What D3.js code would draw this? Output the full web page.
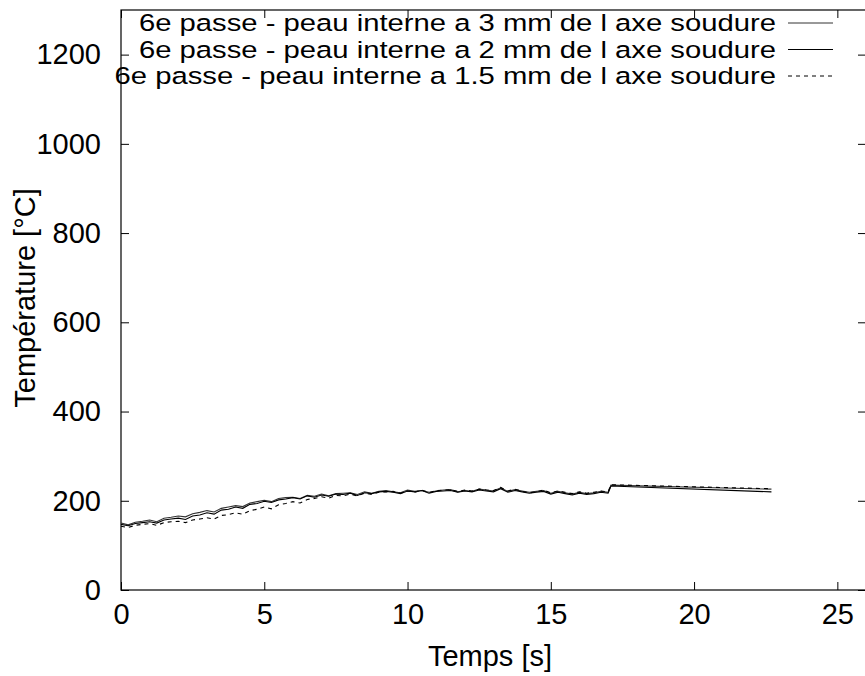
<!DOCTYPE html>
<html><head><meta charset="utf-8">
<script src="https://cdn.jsdelivr.net/npm/d3@7"></script>
<style>body{margin:0;background:#fff}svg{display:block}text{font-family:"Liberation Sans",Arial,sans-serif;fill:#000}</style>
</head><body><svg id="c" width="865" height="676"></svg>
<script>
const time = [0,0.25,0.5,0.75,1,1.25,1.5,1.75,2,2.25,2.5,2.75,3,3.25,3.5,3.75,4,4.25,4.5,4.75,5,5.25,5.5,5.75,6,6.25,6.5,6.75,7,7.25,7.5,7.75,8,8.25,8.5,8.75,9,9.25,9.5,9.75,10,10.25,10.5,10.75,11,11.25,11.5,11.75,12,12.25,12.5,12.75,13,13.25,13.5,13.75,14,14.25,14.5,14.75,15,15.25,15.5,15.75,16,16.25,16.5,16.75,17,17.1,22.7];
const temp3mm = [150,146,152,154,157,153,161,163,166,164,171,174,178,175,183,186,189,187,195,198,201,198,205,207,208,205,212,210,215,211,216,217,218,214,220,217,221,223,220,218,224,221,223,219,222,224,225,220,223,221,226,224,222,229,221,225,222,219,221,223,217,221,218,215,219,216,218,221,219,235,226];
const temp2mm = [147,144,149,151,153,150,157,159,161,158,166,168,173,170,179,181,186,183,192,194,199,196,202,204,207,204,211,208,213,210,215,214,217,212,218,216,220,221,219,216,222,220,223,217,221,222,223,219,222,220,224,222,220,227,219,223,220,217,219,221,215,219,216,213,217,214,216,219,217,233,220];
const temp15mm = [143,140,145,147,149,145,151,153,154,151,157,159,162,159,167,169,173,170,178,181,186,182,191,194,198,195,203,205,209,206,212,211,215,211,217,214,219,220,221,217,222,219,224,218,223,224,225,221,224,222,226,224,223,230,222,226,221,218,220,224,218,222,219,216,220,217,219,222,220,236,227];
const seriesNames = ["6e passe - peau interne a 3 mm de l axe soudure","6e passe - peau interne a 2 mm de l axe soudure","6e passe - peau interne a 1.5 mm de l axe soudure"];
const xTicks = [0,5,10,15,20,25];
const yTicks = [0,200,400,600,800,1000,1200];
const xLabel = "Temps [s]";
const yLabel = "Température [°C]";

const svg = d3.select("#c");
const L = 121, R = 866, T = 10, B = 590;
const x = d3.scaleLinear().domain([0,26]).range([L,R]);
const y = d3.scaleLinear().domain([0,1300]).range([B,T]);
const fs = 29;

svg.append("rect").attr("x",L).attr("y",T).attr("width",R-L).attr("height",B-T)
  .attr("fill","none").attr("stroke","#000").attr("stroke-width",1.2);

const tl = 8;
svg.append("g").attr("transform",`translate(0,${B})`)
  .call(d3.axisBottom(x).tickValues(xTicks).tickSize(-tl).tickPadding(13).tickFormat(d3.format("d")))
  .call(g=>{g.select(".domain").remove();g.selectAll("text").attr("font-size",fs).attr("font-family","Liberation Sans, Arial").attr("fill","#000");});
svg.append("g").attr("transform",`translate(0,${T})`)
  .call(d3.axisTop(x).tickValues(xTicks).tickSize(-tl).tickFormat(""))
  .call(g=>g.select(".domain").remove());
svg.append("g").attr("transform",`translate(${L},0)`)
  .call(d3.axisLeft(y).tickValues(yTicks).tickSize(-tl).tickPadding(20).tickFormat(d3.format("d")))
  .call(g=>{g.select(".domain").remove();g.selectAll("text").attr("font-size",fs).attr("font-family","Liberation Sans, Arial").attr("fill","#000");});
svg.append("g").attr("transform",`translate(${R},0)`)
  .call(d3.axisRight(y).tickValues(yTicks).tickSize(-tl).tickFormat(""))
  .call(g=>g.select(".domain").remove());

svg.append("text").attr("x",490).attr("y",666).attr("text-anchor","middle").attr("font-size",fs).text(xLabel);
svg.append("text").attr("transform","translate(35,298) rotate(-90)").attr("text-anchor","middle").attr("font-size",fs).text(yLabel);

const series = [
  {vals: temp3mm, color:"#333", dash:null},
  {vals: temp2mm, color:"#000", dash:null},
  {vals: temp15mm, color:"#000", dash:"4,4"}
];
const line = d3.line().x(d=>x(d[0])).y(d=>y(d[1]));
series.forEach(s=>{
  svg.append("path").datum(time.map((t,i)=>[t,s.vals[i]]))
    .attr("d",line).attr("fill","none").attr("stroke",s.color).attr("stroke-width",1.1).attr("stroke-dasharray",s.dash);
});

const ly = [23,49.5,76];
const lfs = 23.5;
series.forEach((s,i)=>{
  svg.append("text").attr("transform",`translate(776,${ly[i]}) scale(1.245,1)`).attr("dy","0.35em").attr("text-anchor","end").attr("font-size",lfs).text(seriesNames[i]);
  svg.append("line").attr("x1",788).attr("x2",833).attr("y1",ly[i]).attr("y2",ly[i])
    .attr("stroke",s.color).attr("stroke-width",1).attr("stroke-dasharray",s.dash);
});
</script></body></html>
